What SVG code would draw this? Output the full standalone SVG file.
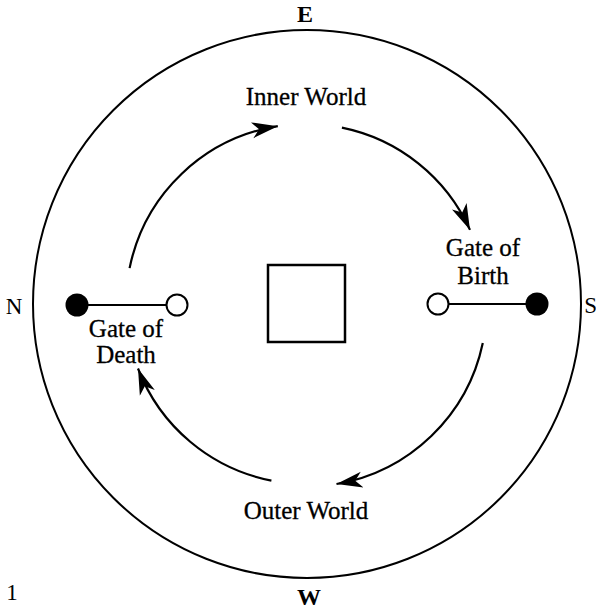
<svg xmlns="http://www.w3.org/2000/svg" width="596" height="610" viewBox="0 0 596 610">
<style>
.t{font-family:"Liberation Serif","Times New Roman",serif;font-size:25px;fill:#000;stroke:#000;stroke-width:0.3}
.c{font-family:"Liberation Serif","Times New Roman",serif;font-size:23px;fill:#000}
.b{font-weight:bold;font-size:24px}
.arc{fill:none;stroke:#000;stroke-width:2.2}
</style>
<defs>
<marker id="ah" markerUnits="userSpaceOnUse" markerWidth="32" markerHeight="22" refX="26" refY="10" orient="auto">
<path d="M0,2 L26,10 L0,18 L7,10 Z" fill="#000"/>
</marker>
</defs>
<g id="outer"><circle cx="307" cy="304" r="274" fill="none" stroke="#000" stroke-width="2"/></g>
<g id="compass">
<text class="c b" x="305" y="22" text-anchor="middle">E</text>
<text class="c" x="14" y="314" text-anchor="middle">N</text>
<text class="c" x="597" y="313" text-anchor="end">S</text>
<text class="c b" x="309" y="605" text-anchor="middle">W</text>
<text class="c" x="12" y="600" text-anchor="middle">1</text>
</g>
<g id="center-square"><rect x="268" y="265" width="77" height="77" fill="none" stroke="#000" stroke-width="2.5"/></g>
<g id="inner-world"><text class="t" x="306" y="105" text-anchor="middle">Inner World</text></g>
<g id="outer-world"><text class="t" x="306" y="519" text-anchor="middle">Outer World</text></g>
<g id="gate-of-death">
<line x1="77" y1="305" x2="166" y2="305" stroke="#000" stroke-width="2"/>
<circle cx="77" cy="305" r="11.5" fill="#000"/>
<circle cx="177" cy="305" r="10.5" fill="#fff" stroke="#000" stroke-width="2"/>
<text class="t" x="126" y="337" text-anchor="middle">Gate of</text>
<text class="t" x="126" y="363" text-anchor="middle">Death</text>
</g>
<g id="gate-of-birth">
<line x1="449" y1="304" x2="537" y2="304" stroke="#000" stroke-width="2"/>
<circle cx="438" cy="304" r="10.5" fill="#fff" stroke="#000" stroke-width="2"/>
<circle cx="537" cy="304" r="11.5" fill="#000"/>
<text class="t" x="483" y="256" text-anchor="middle">Gate of</text>
<text class="t" x="483" y="284" text-anchor="middle">Birth</text>
</g>
<g id="connectors">
<path class="arc" d="M129.6,268.1 A180,180 0 0 1 277.8,126.2" marker-end="url(#ah)"/>
<path class="arc" d="M341.9,127.6 A180,180 0 0 1 470,229.9" marker-end="url(#ah)"/>
<path class="arc" d="M482.8,342.9 A181,181 0 0 1 336.5,484" marker-end="url(#ah)"/>
<path class="arc" d="M271.4,480.6 A180,180 0 0 1 138,368.5" marker-end="url(#ah)"/>
</g>
</svg>
